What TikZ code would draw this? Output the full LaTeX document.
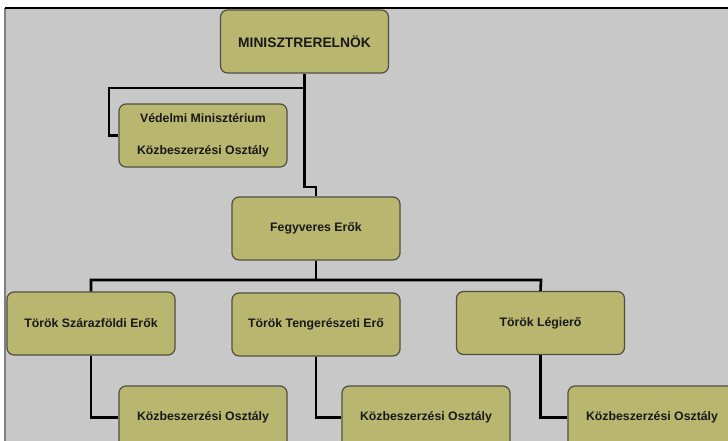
\documentclass[tikz,border=0pt]{standalone}
\usepackage{fontspec}
\setmainfont{Liberation Sans}
\definecolor{panelgray}{RGB}{200,200,200}
\definecolor{boxolive}{RGB}{185,182,112}
\definecolor{boxedge}{RGB}{80,80,66}

\begin{document}
\begin{tikzpicture}[x=1pt,y=-1pt,
	unit/.style={draw=boxedge,line width=1.2pt,fill=boxolive,rounded corners=7pt,
		minimum width=168pt,minimum height=63pt,inner sep=0pt,align=center,
		font=\fontsize{12.3}{31.5}\selectfont\bfseries,text=black!90},
	link/.style={line width=2.6pt,black}]
		
		\useasboundingbox (0,0) rectangle (728,441);
		\clip (0,0) rectangle (728,441);
		\fill[white] (0,0) rectangle (728,441);
		\fill[panelgray] (5,8) rectangle (728,441);
		\draw[gray,line width=1.5pt] (5,8)--(5,441);
		\draw[black,line width=2pt] (5,8)--(728,8);
		
		\node[unit,font=\fontsize{13.8}{16}\selectfont\bfseries] (premier) at (304.5,41.5) {MINISZTRERELNÖK};
		\node[unit] (vedelmi) at (203,135.5) {Védelmi Minisztérium\\Közbeszerzési Osztály};
		\node[unit] (fegyveres) at (316,228.5) {Fegyveres Erők};
		
		\node[unit] (szarazfoldi) at (91,323.5) {Török Szárazföldi Erők};
		\node[unit] (tengereszeti) at (316,324.5) {Török Tengerészeti Erő};
		\node[unit] (legiero) at (540.5,323) {Török Légierő};
		
		\node[unit] (kozbesz1) at (203,417.5) {Közbeszerzési Osztály};
		\node[unit] (kozbesz2) at (426,417.5) {Közbeszerzési Osztály};
		\node[unit] (kozbesz3) at (652,417.5) {Közbeszerzési Osztály};
		
		\coordinate (bend1) at (109,88);
		\coordinate (bend2) at (316,187);
		\coordinate (bus1) at (91,280);
		\coordinate (bus2) at (541,280);
		
		\draw[link] (premier.south) |- (bend1) |- (vedelmi.west);
		\draw[link] (premier.south) |- (bend2) -- (fegyveres.north);
		
		\draw[link] (fegyveres.south) -- (fegyveres.south |- bus1);
		\draw[link] (szarazfoldi.north) -- (bus1) -- (bus2) -- (legiero.north);
		
		\draw[link] (szarazfoldi.south) |- (kozbesz1.west);
		\draw[link] (tengereszeti.south) |- (kozbesz2.west);
		\draw[link] (legiero.south) |- (kozbesz3.west);
		
		\end{tikzpicture}
\end{document}
